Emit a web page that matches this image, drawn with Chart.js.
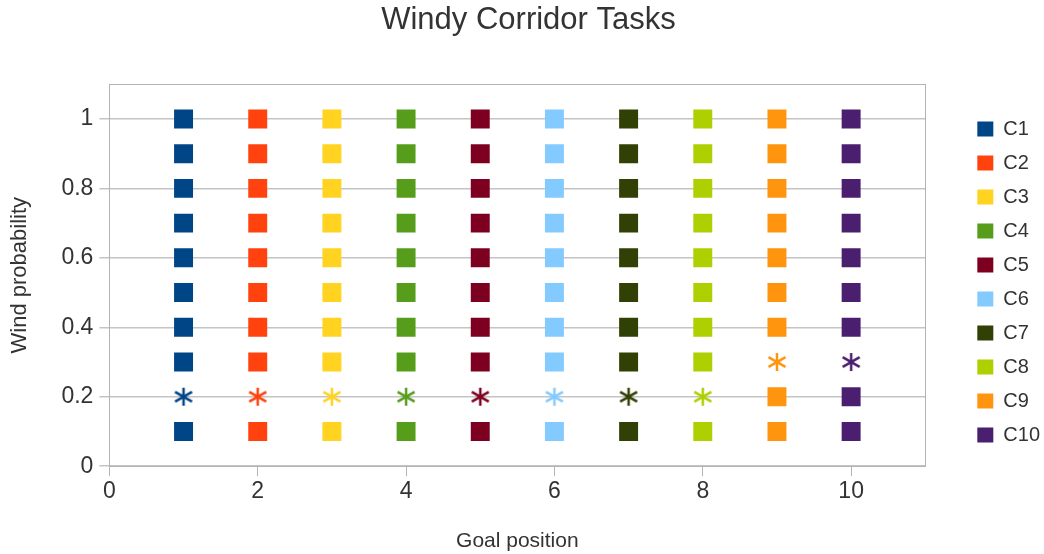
<!DOCTYPE html>
<html>
<head>
<meta charset="utf-8">
<script src="https://cdn.jsdelivr.net/npm/chart.js@4/dist/chart.umd.min.js"></script>
<style>
  html, body { margin: 0; padding: 0; background: #fff; }
  #wrap { width: 1044px; height: 554px; }
</style>
</head>
<body>
<div id="wrap"><canvas id="chart"></canvas></div>
<script>
'use strict';

var seriesNames = ['C1', 'C2', 'C3', 'C4', 'C5', 'C6', 'C7', 'C8', 'C9', 'C10'];
var goalPositions = [1, 2, 3, 4, 5, 6, 7, 8, 9, 10];
var windLevels = [0.1, 0.2, 0.3, 0.4, 0.5, 0.6, 0.7, 0.8, 0.9, 1.0];
// wind level drawn as an asterisk for each task
var markedLevels = [0.2, 0.2, 0.2, 0.2, 0.2, 0.2, 0.2, 0.2, 0.3, 0.3];
var COLORS = ['#004586', '#ff420e', '#ffd320', '#579d1c', '#7e0021',
  '#83caff', '#314004', '#aecf00', '#ff950e', '#4b1f6f'];

var makeAsterisk = function (color) {
  var c = document.createElement('canvas');
  c.width = 24;
  c.height = 24;
  var g = c.getContext('2d');
  g.strokeStyle = color;
  g.lineWidth = 2.5;
  [90, 30, 150].forEach(function (deg) {
    var a = deg * Math.PI / 180;
    var r = deg === 90 ? 9 : 9.8;
    g.beginPath();
    g.moveTo(12 - r * Math.cos(a), 12 - r * Math.sin(a));
    g.lineTo(12 + r * Math.cos(a), 12 + r * Math.sin(a));
    g.stroke();
  });
  return c;
};

var datasets = seriesNames.map(function (name, i) {
  var star = makeAsterisk(COLORS[i]);
  return {
    label: name,
    data: windLevels.map(function (w) { return { x: goalPositions[i], y: w }; }),
    backgroundColor: COLORS[i],
    borderColor: COLORS[i],
    borderWidth: 0,
    pointRadius: 13.4,
    pointHoverRadius: 13.4,
    pointStyle: windLevels.map(function (w) {
      return Math.abs(w - markedLevels[i]) < 1e-6 ? star : 'rect';
    }),
  };
});

var plotBorder = {
  id: 'plotBorder',
  afterDraw: function (chart) {
    var a = chart.chartArea;
    var ctx = chart.ctx;
    ctx.save();
    ctx.strokeStyle = '#b3b3b3';
    ctx.lineWidth = 1;
    ctx.strokeRect(Math.round(a.left) + 0.5, Math.round(a.top) + 0.5,
      Math.round(a.right - a.left), Math.round(a.bottom - a.top));
    ctx.restore();
  },
};

Chart.defaults.font.family = '"Liberation Sans", Arial, sans-serif';
Chart.defaults.color = '#333';

var ctx = document.getElementById('chart').getContext('2d');
/* eslint-disable-next-line no-unused-vars */
var myChart = new Chart(ctx, {
  type: 'scatter',
  plugins: [plotBorder],
  data: { datasets: datasets },
  options: {
    responsive: true,
    maintainAspectRatio: false,
    animation: false,
    layout: { padding: { left: 7, right: -6, top: 0, bottom: 0 } },
    plugins: {
      tooltip: { enabled: false },
      title: {
        display: true,
        text: 'Windy Corridor Tasks',
        color: '#333',
        font: { size: 31, weight: 'normal' },
        padding: { top: 2, bottom: 45 },
      },
      legend: {
        position: 'right',
        align: 'center',
        // empty title, only nudges the items down a little
        title: { display: true, text: ' ', font: { size: 5 }, padding: 2 },
        labels: {
          boxWidth: 16,
          boxHeight: 15,
          padding: 14,
          color: '#333',
          font: { size: 20 },
        },
      },
    },
    scales: {
      x: {
        type: 'linear',
        min: 0,
        max: 11,
        border: { color: '#b3b3b3' },
        grid: { drawOnChartArea: false, drawTicks: true, tickLength: 10, color: '#b3b3b3' },
        ticks: { stepSize: 2, includeBounds: false, color: '#333', font: { size: 23 }, padding: 2 },
        title: { display: true, text: 'Goal position', color: '#333', font: { size: 21 }, padding: { top: 21, bottom: 0 } },
      },
      y: {
        type: 'linear',
        min: 0,
        max: 1.1,
        border: { color: '#b3b3b3' },
        grid: { color: '#c4c4c4', lineWidth: 1.5, tickLength: 10 },
        ticks: {
          stepSize: 0.2,
          includeBounds: false,
          color: '#333',
          font: { size: 23 },
          padding: 6,
          callback: function (v) { return String(Number(v.toFixed(1))); },
        },
        title: { display: true, text: 'Wind probability', color: '#333', font: { size: 22 }, padding: { top: 0, bottom: 22 } },
      },
      // empty spacer between the plot and the legend
      gap: {
        type: 'linear',
        position: 'right',
        display: true,
        grid: { display: false },
        border: { display: false },
        ticks: { display: false },
        afterFit: function (scale) { scale.width = 38; },
      },
    },
  },
});
</script>
</body>
</html>
